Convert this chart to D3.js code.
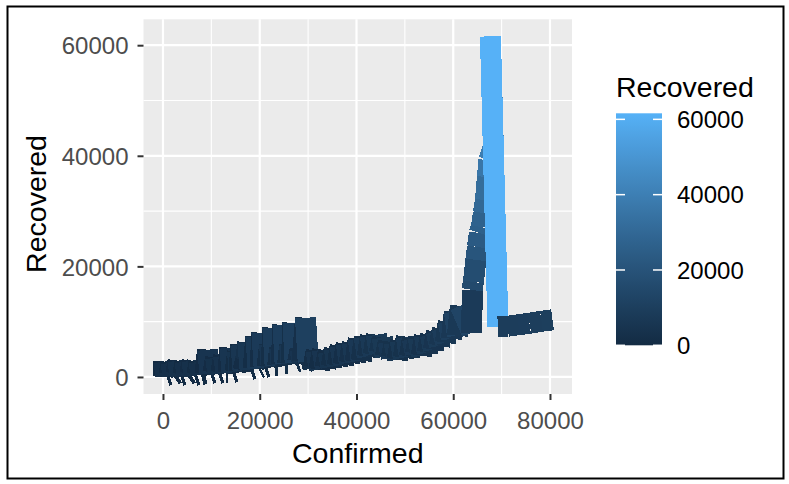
<!DOCTYPE html>
<html><head><meta charset="utf-8">
<script src="https://cdn.jsdelivr.net/npm/d3@7"></script>
<style>body{margin:0;background:#fff}svg{display:block}text{font-family:"Liberation Sans",Arial,sans-serif}</style>
</head><body><svg id="c" width="789" height="484"></svg>
<script>
const confirmed = [0,207,621,1242,1656,2070,2691,3105,3519,4140,4554,4968,5589,6003,6417,7038,7452,7866,8694,9212,9729,10350,10868,11385,12006,12524,13041,13455,13828,14283,14904,15422,15732,16105,16560,17078,17554,18009,18630,19210,19665,20079,20452,20907,21528,22046,22356,22729,23184,23702,24116,24426,24799,25254,25772,26186,26496,26869,27324,27842,28359,28773,29456,30015,30636,
31050,31671,32292,32913,33534,34155,34776,35397,36018,36639,37260,37881,38502,39123,39744,40365,40986,41607,42228,42849,43470,44091,44712,45333,45954,46575,47196,47817,48438,49059,49680,50301,50922,51543,52164,52785,53406,54027,54648,55269,55890,56511,57132,57753,58374,58995,59616,60237,60858,61479,
63860,63901,64170,64688,64998,65412,65826,66240,66654,67068,67379,68289,67689,69242,71208,73485,75762,78246,80523];
const recovered = [0,2762,235,415,2581,235,596,2942,235,415,2762,235,596,2942,235,415,2762,415,596,4928,596,776,3484,596,776,3845,776,776,5289,776,957,4567,957,5830,1137,3123,6191,1318,1498,7274,1498,1679,7996,1679,1859,5830,1859,8899,2040,2040,5289,2220,9440,2401,2401,5830,2401,9801,2581,2762,4928,2762,10704,2762,2942,
1679,4747,1318,4928,1679,4567,1859,5108,2040,5650,2220,6011,2581,6191,2762,6913,2942,7274,3664,7455,4025,7635,4386,7094,3664,6372,3484,6191,3123,6552,3484,7274,3664,6913,4206,7094,3845,7455,4386,7635,4928,8177,5650,8718,6191,9982,6913,11807,7455,12870,
7996,15758,17202,21173,23519,26046,27129,29656,32002,36154,39222,41568,61604,9079,9170,9440,9711,10072,10343];
const xTicks = [0,20000,40000,60000,80000];
const yTicks = [0,20000,40000,60000];
const legendTicks = [0,20000,40000,60000];
const xTitle = "Confirmed", yTitle = "Recovered", legendTitle = "Recovered";

const svg = d3.select("#c");
const P = {l:143.5, r:572, t:19.3, b:394};
const data = confirmed.map((c,i)=>({x:c, y:recovered[i]}));
const xe = d3.extent(confirmed), ye = d3.extent(recovered);
const xp = (xe[1]-xe[0])*0.05, yp = (ye[1]-ye[0])*0.05;
const x = d3.scaleLinear().domain([xe[0]-xp, xe[1]+xp]).range([P.l, P.r]);
const y = d3.scaleLinear().domain([ye[0]-yp, ye[1]+yp]).range([P.b, P.t]);
const col = d3.scaleLinear().domain(ye).range(["#132B43","#56B1F7"]).interpolate(d3.interpolateLab);

svg.append("rect").attr("x",7.5).attr("y",6.5).attr("width",776).attr("height",472)
  .attr("fill","none").attr("stroke","#000").attr("stroke-width",2);
svg.append("rect").attr("x",P.l).attr("y",P.t).attr("width",P.r-P.l).attr("height",P.b-P.t).attr("fill","#EBEBEB");
const xMinor = [-10000,10000,30000,50000,70000,90000].filter(v=>x(v)>P.l&&x(v)<P.r);
const yMinor = [-10000,10000,30000,50000,70000].filter(v=>y(v)<P.b&&y(v)>P.t);
const g = svg.append("g");
xMinor.forEach(v=>g.append("line").attr("x1",x(v)).attr("x2",x(v)).attr("y1",P.t).attr("y2",P.b).attr("stroke","#fff").attr("stroke-width",1.1));
yMinor.forEach(v=>g.append("line").attr("y1",y(v)).attr("y2",y(v)).attr("x1",P.l).attr("x2",P.r).attr("stroke","#fff").attr("stroke-width",1.1));
xTicks.forEach(v=>g.append("line").attr("x1",x(v)).attr("x2",x(v)).attr("y1",P.t).attr("y2",P.b).attr("stroke","#fff").attr("stroke-width",2.2));
yTicks.forEach(v=>g.append("line").attr("y1",y(v)).attr("y2",y(v)).attr("x1",P.l).attr("x2",P.r).attr("stroke","#fff").attr("stroke-width",2.2));

svg.append("clipPath").attr("id","pc").append("rect").attr("x",P.l).attr("y",P.t).attr("width",P.r-P.l).attr("height",P.b-P.t);
const segs = d3.pairs(data);
svg.append("g").attr("clip-path","url(#pc)").attr("shape-rendering","crispEdges").selectAll("line").data(segs).join("line")
  .attr("x1",d=>x(d[0].x)).attr("y1",d=>y(d[0].y)).attr("x2",d=>x(d[1].x)).attr("y2",d=>y(d[1].y))
  .attr("stroke",d=>col(d[0].y)).attr("stroke-width",21).attr("stroke-linecap","butt");

const xa = svg.append("g").attr("transform",`translate(0,${P.b})`)
  .call(d3.axisBottom(x).tickValues(xTicks).tickSize(6).tickPadding(6).tickFormat(d3.format("d")));
const ya = svg.append("g").attr("transform",`translate(${P.l},0)`)
  .call(d3.axisLeft(y).tickValues(yTicks).tickSize(6).tickPadding(9).tickFormat(d3.format("d")));
[xa,ya].forEach(a=>{a.select(".domain").remove();
  a.selectAll(".tick line").attr("stroke","#333").attr("stroke-width",2);
  a.selectAll(".tick text").attr("fill","#4D4D4D").style("font-size","24px").style("font-family","'Liberation Sans',Arial,sans-serif");});
xa.selectAll(".tick text").attr("dy",null).attr("y",35);
ya.selectAll(".tick text").attr("dy","0.36em");

svg.append("text").attr("x",(P.l+P.r)/2).attr("y",463).attr("text-anchor","middle").style("font-size","28.5px").attr("fill","#000").text(xTitle);
svg.append("text").attr("transform","translate(46,204) rotate(-90)").attr("text-anchor","middle").style("font-size","28.5px").attr("fill","#000").text(yTitle);

const L = {x:616, w:46, top:113.3, bot:345.3};
const ly = d3.scaleLinear().domain(ye).range([L.bot, L.top]);
const grad = svg.append("defs").append("linearGradient").attr("id","lg").attr("x1",0).attr("x2",0).attr("y1",1).attr("y2",0);
d3.range(0,21).forEach(i=>grad.append("stop").attr("offset",i/20).attr("stop-color",col(ye[0]+(ye[1]-ye[0])*i/20)));
svg.append("rect").attr("x",L.x).attr("y",L.top).attr("width",L.w).attr("height",L.bot-L.top).attr("fill","url(#lg)");
legendTicks.forEach(v=>{
  const yy = ly(v);
  svg.append("line").attr("x1",L.x).attr("x2",L.x+9).attr("y1",yy).attr("y2",yy).attr("stroke","#fff").attr("stroke-width",1.5);
  svg.append("line").attr("x1",L.x+L.w-9).attr("x2",L.x+L.w).attr("y1",yy).attr("y2",yy).attr("stroke","#fff").attr("stroke-width",1.5);
  svg.append("text").attr("x",677).attr("y",yy).attr("dy","0.36em").style("font-size","24px").attr("fill","#000").text(d3.format("d")(v));
});
svg.append("text").attr("x",616).attr("y",97).style("font-size","28.5px").attr("fill","#000").text(legendTitle);
</script></body></html>
